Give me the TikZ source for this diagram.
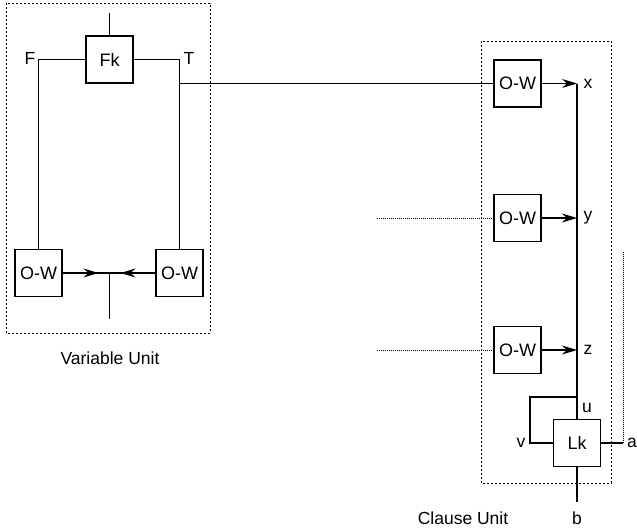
\documentclass[tikz,border=0pt]{standalone}
\usepackage{fontspec}
\setmainfont{Liberation Sans}
\usetikzlibrary{arrows.meta,calc}

\begin{document}
\begin{tikzpicture}[x=1pt, y=-1pt, line width=1.2pt,
   blk/.style={draw, minimum size=47pt, inner sep=0pt, font=\fontsize{18}{21}\selectfont},
   lbl/.style={inner sep=0pt, font=\fontsize{17.5}{20}\selectfont},
   unit/.style={draw, line width=0.7pt, dash pattern=on 2pt off 2pt},
   feed/.style={line width=0.7pt, dash pattern=on 1pt off 1pt},
   tip/.style={-{Stealth[length=15pt, width=9pt, inset=5pt]}}]
   \useasboundingbox (0,0) rectangle (637,531);
   % variable unit
   \draw[unit] (6,3) rectangle (210,333);
   \node[blk] (fk)  at (109.5,59.5) {Fk};
   \node[blk] (owl) at (38.5,273) {O-W};
   \node[blk] (owr) at (179.5,273) {O-W};
   \coordinate (fin) at (109.5,13);
   \coordinate (mid) at (109.5,273);
   \coordinate (out) at (109.5,319);
   \draw (fin) -- (fk.north);
   \draw (fk.west) -| (owl.north);
   \draw (fk.east) -| (owr.north);
   \node[lbl] (f) at (30,58) {F};
   \node[lbl] (t) at (189,58) {T};
   \draw (owl.east) -- (owr.west);
   \draw[tip] (owl.east) -- ($(mid)+(-11,0)$);
   \draw[tip] (owr.west) -- ($(mid)+(11,0)$);
   \draw (mid) -- (out);
   \node[lbl] (vu) at (110,358) {Variable Unit};
   % clause unit
   \draw[unit] (481,41) rectangle (611,483);
   \foreach \n/\y in {x/83.5, y/218, z/350}
   {
     \node[blk] (ow\n) at (517.5,\y) {O-W};
     \coordinate (j\n) at (577,\y);
     \draw[tip] (ow\n.east) -- (j\n);
     \node[lbl] (l\n) at (588,\y) {\n};
   }
   \coordinate (tap) at (owr.north |- owx.west);
   \draw (tap) -- (owx.west);
   \foreach \n in {y,z}
   {
     \coordinate (in\n) at (377,0 |- ow\n.west);
     \draw[feed] (in\n) -- (ow\n.west);
   }
   \node[blk] (lk) at (577,443) {Lk};
   \coordinate (ju) at (577,397);
   \coordinate (lp) at (530,397);
   \coordinate (ao) at (623,443);
   \coordinate (at) at (623,252);
   \coordinate (bo) at (577,502);
   \draw (jx) -- (lk.north);
   \draw (ju) -- (lp) |- (lk.west);
   \draw (lk.east) -- (ao);
   \draw[feed] (ao) -- (at);
   \draw (lk.south) -- (bo);
   \node[lbl] (lu) at (587,408) {u};
   \node[lbl] (lv) at (521,443) {v};
   \node[lbl] (la) at (632,443) {a};
   \node[lbl] (lb) at (577,518) {b};
   \node[lbl] (cu) at (463,518) {Clause Unit};
\end{tikzpicture}
\end{document}
